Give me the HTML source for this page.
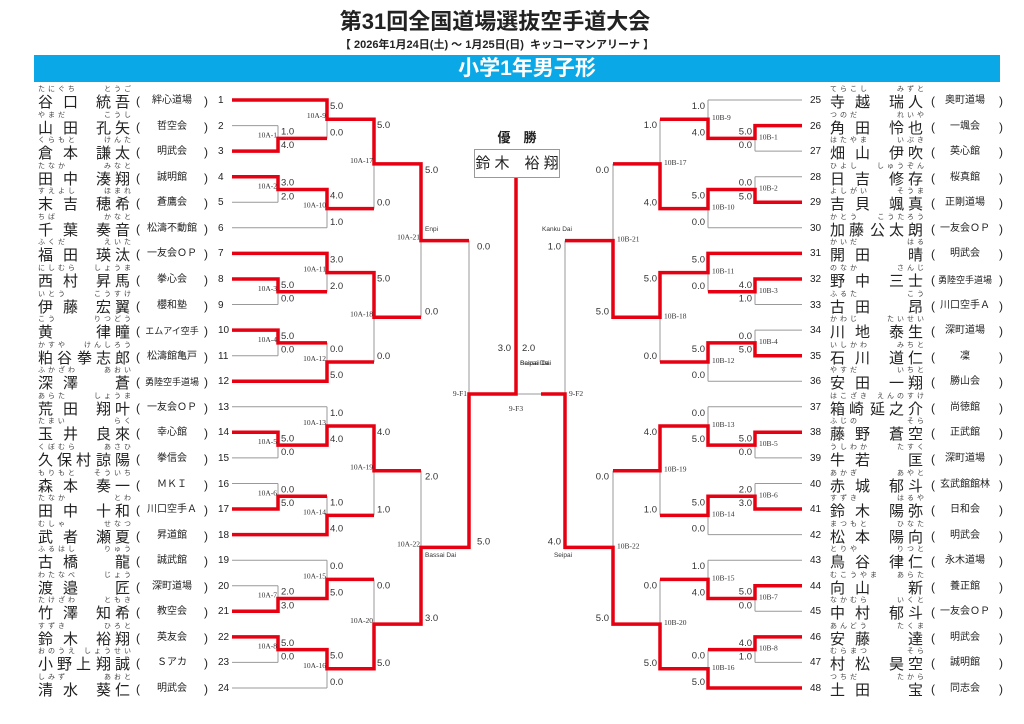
<!DOCTYPE html>
<html><head><meta charset="utf-8"><style>
html,body{margin:0;padding:0;background:#fff}
body{width:1024px;height:724px;position:relative;overflow:hidden;font-family:"Liberation Sans","Noto Sans CJK JP",sans-serif;color:#222}
.title{position:absolute;left:0;width:990px;top:8px;text-align:center;font-size:22px;font-weight:bold;line-height:28px;font-family:"Liberation Sans","Noto Sans CJK JP",sans-serif}
.sub{position:absolute;left:0;width:994px;top:39px;text-align:center;font-size:11px;font-weight:bold;line-height:13px}
.bar{position:absolute;left:34px;top:55px;width:966px;height:27px;background:#0aa8e6;color:#fff;text-align:center;font-size:21px;font-weight:bold;line-height:27px;text-indent:20px}
.L,.R{position:absolute;width:200px;height:26px}
.L{left:38px}.R{left:808px}
.L *,.R *{position:absolute;font-style:normal;text-decoration:none;font-weight:normal;white-space:nowrap}
.ff{top:0;font-size:7px;line-height:8px;letter-spacing:3px;color:#444}
.gf{top:0;width:96px;text-align:right;font-size:7px;line-height:8px;letter-spacing:3px;color:#444}
.f1,.f2,.f3,.gv{top:9px;font-size:15px;line-height:16px;color:#222}
.f2{letter-spacing:10px}.f3{letter-spacing:4px}
.gv{width:96px;text-align:right;letter-spacing:4px}
.L .ff,.L .f1,.L .f2,.L .f3,.L .gf,.L .gv{left:0}
.R .ff,.R .f1,.R .f2,.R .f3{left:22px}
.R .gf,.R .gv{left:23px}
.op,.cp{top:8px;font-size:12px;line-height:14px}
.L .op{left:98px}.R .op{left:123px}
.L .cp{left:166px}.R .cp{left:191px}
.cl{top:9px;width:62px;text-align:center;font-size:10px;line-height:12px}
.L .cl{left:103px}.R .cl{left:126px}
.sm{font-size:9px!important}
.no{top:9px;font-size:10px;line-height:12px}
.L .no{left:180px}.R .no{left:2px}
.champ{position:absolute;left:474px;top:149px;width:84px;height:27px;border:1px solid #999;text-align:center;font-size:15px;line-height:27px;white-space:nowrap}
.yu{position:absolute;left:476px;width:82px;top:130px;text-align:center;font-size:13px;font-weight:bold;line-height:16px}
svg{position:absolute;left:0;top:0}
</style></head><body>
<div class="title">第31回全国道場選抜空手道大会</div>
<div class="sub">【 2026年1月24日(土) ～ 1月25日(日)&nbsp; キッコーマンアリーナ 】</div>
<div class="bar">小学1年男子形</div>
<div class="yu">優　勝</div>
<div class="champ">鈴 木　裕 翔</div>

<svg width="1024" height="724" viewBox="0 0 1024 724">
<g stroke="#999" stroke-width="1" fill="none">
<path d="M232 125.6H278M232 202.3H278M232 227.8H327M232 304.5H278M232 355.7H278M232 406.8H327M232 457.9H278M232 483.5H278M232 560.2H327M232 585.7H278M232 662.4H278M232 688H327"/>
<path d="M278 125.6V151.1M278 176.7V202.3M278 279V304.5M278 330.1V355.7M278 432.3V457.9M278 483.5V509M278 585.7V611.3M278 636.9V662.4"/>
<path d="M327 100V138.35M327 189.5V227.8M327 253.4V291.75M327 342.9V381.2M327 406.8V445.1M327 496.25V534.6M327 560.2V598.5M327 649.65V688"/>
<path d="M374 119.2V208.65M374 272.6V362.05M374 425.95V515.4M374 579.35V668.8M421 163.9V317.3M421 470.7V624.1M469 240.6V547.4"/>
<path d="M802 100H708M802 151.1H755M802 176.7H755M802 227.8H708M802 304.5H755M802 330.1H755M802 381.2H708M802 406.8H708M802 457.9H755M802 483.5H755M802 534.6H708M802 560.2H708M802 611.3H755M802 662.4H755"/>
<path d="M755 125.6V151.1M755 176.7V202.3M755 279V304.5M755 330.1V355.7M755 432.3V457.9M755 483.5V509M755 585.7V611.3M755 636.9V662.4"/>
<path d="M708 100V138.35M708 189.5V227.8M708 253.4V291.75M708 342.9V381.2M708 406.8V445.1M708 496.25V534.6M708 560.2V598.5M708 649.65V688"/>
<path d="M660 119.2V208.65M660 272.6V362.05M660 425.95V515.4M660 579.35V668.8M613 163.9V317.3M613 470.7V624.1M565 240.6V547.4"/>
<path d="M516 394H541"/>
</g>
<g stroke="#e60012" stroke-width="3.5" fill="none" stroke-linejoin="miter">
<path d="M232 100H327V119.2H374V163.9H421V240.6H469"/>
<path d="M232 151.1H278V138.35H327"/>
<path d="M232 176.7H278V189.5H327V208.65H374"/>
<path d="M232 253.4H327V272.6H374V317.3H421"/>
<path d="M232 279H278V291.75H327"/>
<path d="M232 330.1H278V342.9H327"/>
<path d="M232 381.2H327V362.05H374"/>
<path d="M232 432.3H278V445.1H327V425.95H374V470.7H421"/>
<path d="M232 509H278V496.25H327"/>
<path d="M232 534.6H327V515.4H374"/>
<path d="M232 611.3H278V598.5H327V579.35H374"/>
<path d="M232 636.9H278V649.65H327V668.8H374V624.1H421V547.4H469V394H516V178"/>
<path d="M802 125.6H755V138.35H708V119.2H660"/>
<path d="M802 202.3H755V189.5H708V208.65H660V163.9H613"/>
<path d="M802 253.4H708V272.6H660V317.3H613V240.6H565"/>
<path d="M802 279H755V291.75H708"/>
<path d="M802 355.7H755V342.9H708V362.05H660"/>
<path d="M802 432.3H755V445.1H708V425.95H660V470.7H613"/>
<path d="M802 509H755V496.25H708V515.4H660"/>
<path d="M802 585.7H755V598.5H708V579.35H660"/>
<path d="M802 636.9H755V649.65H708"/>
<path d="M802 688H708V668.8H660V624.1H613V547.4H565V394H541"/>
</g>
<g font-family="Liberation Sans, sans-serif" font-size="9.5" fill="#333">
<text x="281" y="134.6">1.0</text><text x="281" y="148.1">4.0</text>
<text x="281" y="185.7">3.0</text><text x="281" y="199.3">2.0</text>
<text x="281" y="288">5.0</text><text x="281" y="301.5">0.0</text>
<text x="281" y="339.1">5.0</text><text x="281" y="352.7">0.0</text>
<text x="281" y="441.3">5.0</text><text x="281" y="454.9">0.0</text>
<text x="281" y="492.5">0.0</text><text x="281" y="506">5.0</text>
<text x="281" y="594.7">2.0</text><text x="281" y="608.3">3.0</text>
<text x="281" y="645.9">5.0</text><text x="281" y="659.4">0.0</text>
<text x="330" y="109">5.0</text><text x="330" y="135.35">0.0</text>
<text x="330" y="198.5">4.0</text><text x="330" y="224.8">1.0</text>
<text x="330" y="262.4">3.0</text><text x="330" y="288.75">2.0</text>
<text x="330" y="351.9">0.0</text><text x="330" y="378.2">5.0</text>
<text x="330" y="415.8">1.0</text><text x="330" y="442.1">4.0</text>
<text x="330" y="505.25">1.0</text><text x="330" y="531.6">4.0</text>
<text x="330" y="569.2">0.0</text><text x="330" y="595.5">5.0</text>
<text x="330" y="658.65">5.0</text><text x="330" y="685">0.0</text>
<text x="377" y="128.2">5.0</text><text x="377" y="205.65">0.0</text>
<text x="377" y="281.6">5.0</text><text x="377" y="359.05">0.0</text>
<text x="377" y="434.95">4.0</text><text x="377" y="512.4">1.0</text>
<text x="377" y="588.35">0.0</text><text x="377" y="665.8">5.0</text>
<text x="425" y="172.9">5.0</text><text x="425" y="314.3">0.0</text>
<text x="425" y="479.7">2.0</text><text x="425" y="621.1">3.0</text>
<text x="477" y="249.6">0.0</text><text x="477" y="544.4">5.0</text>
<g text-anchor="end">
<text x="752" y="134.6">5.0</text><text x="752" y="148.1">0.0</text>
<text x="752" y="185.7">0.0</text><text x="752" y="199.3">5.0</text>
<text x="752" y="288">4.0</text><text x="752" y="301.5">1.0</text>
<text x="752" y="339.1">0.0</text><text x="752" y="352.7">5.0</text>
<text x="752" y="441.3">5.0</text><text x="752" y="454.9">0.0</text>
<text x="752" y="492.5">2.0</text><text x="752" y="506">3.0</text>
<text x="752" y="594.7">5.0</text><text x="752" y="608.3">0.0</text>
<text x="752" y="645.9">4.0</text><text x="752" y="659.4">1.0</text>
<text x="705" y="109">1.0</text><text x="705" y="135.35">4.0</text>
<text x="705" y="198.5">5.0</text><text x="705" y="224.8">0.0</text>
<text x="705" y="262.4">5.0</text><text x="705" y="288.75">0.0</text>
<text x="705" y="351.9">5.0</text><text x="705" y="378.2">0.0</text>
<text x="705" y="415.8">0.0</text><text x="705" y="442.1">5.0</text>
<text x="705" y="505.25">5.0</text><text x="705" y="531.6">0.0</text>
<text x="705" y="569.2">1.0</text><text x="705" y="595.5">4.0</text>
<text x="705" y="658.65">0.0</text><text x="705" y="685">5.0</text>
<text x="657" y="128.2">1.0</text><text x="657" y="205.65">4.0</text>
<text x="657" y="281.6">5.0</text><text x="657" y="359.05">0.0</text>
<text x="657" y="434.95">4.0</text><text x="657" y="512.4">1.0</text>
<text x="657" y="588.35">0.0</text><text x="657" y="665.8">5.0</text>
<text x="609" y="172.9">0.0</text><text x="609" y="314.3">5.0</text>
<text x="609" y="479.7">0.0</text><text x="609" y="621.1">5.0</text>
<text x="561" y="249.6">1.0</text><text x="561" y="544.4">4.0</text>
<text x="511" y="351">3.0</text>
</g>
<text x="522" y="351">2.0</text>
</g>
<g font-family="Liberation Serif, serif" font-size="7.5" fill="#333">
<g text-anchor="end">
<text x="277" y="137.4">10A-1</text><text x="277" y="188.5">10A-2</text><text x="277" y="290.8">10A-3</text><text x="277" y="341.9">10A-4</text><text x="277" y="444.1">10A-5</text><text x="277" y="495.3">10A-6</text><text x="277" y="597.5">10A-7</text><text x="277" y="648.7">10A-8</text>
<text x="326" y="118.2">10A-9</text><text x="326" y="207.7">10A-10</text><text x="326" y="271.6">10A-11</text><text x="326" y="361">10A-12</text><text x="326" y="425">10A-13</text><text x="326" y="514.4">10A-14</text><text x="326" y="578.4">10A-15</text><text x="326" y="667.8">10A-16</text>
<text x="373" y="162.9">10A-17</text><text x="373" y="316.3">10A-18</text><text x="373" y="469.7">10A-19</text><text x="373" y="623.1">10A-20</text>
<text x="420" y="239.6">10A-21</text><text x="420" y="546.4">10A-22</text>
<text x="467" y="396">9-F1</text>
</g>
<text x="759" y="139.4">10B-1</text><text x="759" y="190.5">10B-2</text><text x="759" y="292.8">10B-3</text><text x="759" y="343.9">10B-4</text><text x="759" y="446.1">10B-5</text><text x="759" y="497.3">10B-6</text><text x="759" y="599.5">10B-7</text><text x="759" y="650.7">10B-8</text>
<text x="712" y="120.2">10B-9</text><text x="712" y="209.7">10B-10</text><text x="712" y="273.6">10B-11</text><text x="712" y="363">10B-12</text><text x="712" y="427">10B-13</text><text x="712" y="516.4">10B-14</text><text x="712" y="580.4">10B-15</text><text x="712" y="669.8">10B-16</text>
<text x="664" y="164.9">10B-17</text><text x="664" y="318.3">10B-18</text><text x="664" y="471.7">10B-19</text><text x="664" y="625.1">10B-20</text>
<text x="617" y="241.6">10B-21</text><text x="617" y="548.4">10B-22</text>
<text x="569" y="396">9-F2</text>
<text x="516" y="411" text-anchor="middle">9-F3</text>
</g>
<g font-family="Liberation Sans, sans-serif" font-size="6.5" fill="#333">
<text x="425" y="231">Enpi</text>
<text x="425" y="557">Bassai Dai</text>
<text x="557" y="231" text-anchor="middle">Kanku Dai</text>
<text x="563" y="557" text-anchor="middle">Seipai</text>
<text x="520" y="365">Seipai Dai</text>
<text x="520" y="365">Bassai Dai</text>
</g>
</svg>

<div class="L" style="top:86px"><i class="ff">たにぐち</i><i class="gf">とうご</i><b class="f2">谷口</b><b class="gv">統吾</b><s class="op">(</s><u class="cl">絆心道場</u><s class="cp">)</s><em class="no">1</em></div>
<div class="L" style="top:111.6px"><i class="ff">やまだ</i><i class="gf">こうし</i><b class="f2">山田</b><b class="gv">孔矢</b><s class="op">(</s><u class="cl">哲空会</u><s class="cp">)</s><em class="no">2</em></div>
<div class="L" style="top:137.1px"><i class="ff">くらもと</i><i class="gf">けんた</i><b class="f2">倉本</b><b class="gv">謙太</b><s class="op">(</s><u class="cl">明武会</u><s class="cp">)</s><em class="no">3</em></div>
<div class="L" style="top:162.7px"><i class="ff">たなか</i><i class="gf">みなと</i><b class="f2">田中</b><b class="gv">湊翔</b><s class="op">(</s><u class="cl">誠明館</u><s class="cp">)</s><em class="no">4</em></div>
<div class="L" style="top:188.3px"><i class="ff">すえよし</i><i class="gf">ほまれ</i><b class="f2">末吉</b><b class="gv">穂希</b><s class="op">(</s><u class="cl">蒼鷹会</u><s class="cp">)</s><em class="no">5</em></div>
<div class="L" style="top:213.8px"><i class="ff">ちば</i><i class="gf">かなと</i><b class="f2">千葉</b><b class="gv">奏音</b><s class="op">(</s><u class="cl">松濤不動館</u><s class="cp">)</s><em class="no">6</em></div>
<div class="L" style="top:239.4px"><i class="ff">ふくだ</i><i class="gf">えいた</i><b class="f2">福田</b><b class="gv">瑛汰</b><s class="op">(</s><u class="cl">一友会ＯＰ</u><s class="cp">)</s><em class="no">7</em></div>
<div class="L" style="top:265px"><i class="ff">にしむら</i><i class="gf">しょうま</i><b class="f2">西村</b><b class="gv">昇馬</b><s class="op">(</s><u class="cl">拳心会</u><s class="cp">)</s><em class="no">8</em></div>
<div class="L" style="top:290.5px"><i class="ff">いとう</i><i class="gf">こうすけ</i><b class="f2">伊藤</b><b class="gv">宏翼</b><s class="op">(</s><u class="cl">櫻和塾</u><s class="cp">)</s><em class="no">9</em></div>
<div class="L" style="top:316.1px"><i class="ff">こう</i><i class="gf">りつどう</i><b class="f1">黄</b><b class="gv">律瞳</b><s class="op">(</s><u class="cl sm">エムアイ空手</u><s class="cp">)</s><em class="no">10</em></div>
<div class="L" style="top:341.7px"><i class="ff">かすや</i><i class="gf">けんしろう</i><b class="f3">粕谷</b><b class="gv">拳志郎</b><s class="op">(</s><u class="cl">松濤館亀戸</u><s class="cp">)</s><em class="no">11</em></div>
<div class="L" style="top:367.2px"><i class="ff">ふかざわ</i><i class="gf">あおい</i><b class="f2">深澤</b><b class="gv">蒼</b><s class="op">(</s><u class="cl sm">勇陸空手道場</u><s class="cp">)</s><em class="no">12</em></div>
<div class="L" style="top:392.8px"><i class="ff">あらた</i><i class="gf">しょうま</i><b class="f2">荒田</b><b class="gv">翔叶</b><s class="op">(</s><u class="cl">一友会ＯＰ</u><s class="cp">)</s><em class="no">13</em></div>
<div class="L" style="top:418.3px"><i class="ff">たまい</i><i class="gf">らく</i><b class="f2">玉井</b><b class="gv">良來</b><s class="op">(</s><u class="cl">幸心館</u><s class="cp">)</s><em class="no">14</em></div>
<div class="L" style="top:443.9px"><i class="ff">くぼむら</i><i class="gf">あさひ</i><b class="f3">久保村</b><b class="gv">諒陽</b><s class="op">(</s><u class="cl">拳信会</u><s class="cp">)</s><em class="no">15</em></div>
<div class="L" style="top:469.5px"><i class="ff">もりもと</i><i class="gf">そういち</i><b class="f2">森本</b><b class="gv">奏一</b><s class="op">(</s><u class="cl">ＭＫＩ</u><s class="cp">)</s><em class="no">16</em></div>
<div class="L" style="top:495px"><i class="ff">たなか</i><i class="gf">とわ</i><b class="f2">田中</b><b class="gv">十和</b><s class="op">(</s><u class="cl">川口空手Ａ</u><s class="cp">)</s><em class="no">17</em></div>
<div class="L" style="top:520.6px"><i class="ff">むしゃ</i><i class="gf">せなつ</i><b class="f2">武者</b><b class="gv">瀬夏</b><s class="op">(</s><u class="cl">昇道館</u><s class="cp">)</s><em class="no">18</em></div>
<div class="L" style="top:546.2px"><i class="ff">ふるはし</i><i class="gf">りゅう</i><b class="f2">古橋</b><b class="gv">龍</b><s class="op">(</s><u class="cl">誠武館</u><s class="cp">)</s><em class="no">19</em></div>
<div class="L" style="top:571.7px"><i class="ff">わたなべ</i><i class="gf">じょう</i><b class="f2">渡邉</b><b class="gv">匠</b><s class="op">(</s><u class="cl">深町道場</u><s class="cp">)</s><em class="no">20</em></div>
<div class="L" style="top:597.3px"><i class="ff">たけざわ</i><i class="gf">ともき</i><b class="f2">竹澤</b><b class="gv">知希</b><s class="op">(</s><u class="cl">教空会</u><s class="cp">)</s><em class="no">21</em></div>
<div class="L" style="top:622.9px"><i class="ff">すずき</i><i class="gf">ひろと</i><b class="f2">鈴木</b><b class="gv">裕翔</b><s class="op">(</s><u class="cl">英友会</u><s class="cp">)</s><em class="no">22</em></div>
<div class="L" style="top:648.4px"><i class="ff">おのうえ</i><i class="gf">しょうせい</i><b class="f3">小野上</b><b class="gv">翔誠</b><s class="op">(</s><u class="cl">Ｓアカ</u><s class="cp">)</s><em class="no">23</em></div>
<div class="L" style="top:674px"><i class="ff">しみず</i><i class="gf">あおと</i><b class="f2">清水</b><b class="gv">葵仁</b><s class="op">(</s><u class="cl">明武会</u><s class="cp">)</s><em class="no">24</em></div>

<div class="R" style="top:86px"><em class="no">25</em><i class="ff">てらこし</i><i class="gf">みずと</i><b class="f2">寺越</b><b class="gv">瑞人</b><s class="op">(</s><u class="cl">奥町道場</u><s class="cp">)</s></div>
<div class="R" style="top:111.6px"><em class="no">26</em><i class="ff">つのだ</i><i class="gf">れいや</i><b class="f2">角田</b><b class="gv">怜也</b><s class="op">(</s><u class="cl">一颯会</u><s class="cp">)</s></div>
<div class="R" style="top:137.1px"><em class="no">27</em><i class="ff">はたやま</i><i class="gf">いぶき</i><b class="f2">畑山</b><b class="gv">伊吹</b><s class="op">(</s><u class="cl">英心館</u><s class="cp">)</s></div>
<div class="R" style="top:162.7px"><em class="no">28</em><i class="ff">ひよし</i><i class="gf">しゅうぞん</i><b class="f2">日吉</b><b class="gv">修存</b><s class="op">(</s><u class="cl">桜真館</u><s class="cp">)</s></div>
<div class="R" style="top:188.3px"><em class="no">29</em><i class="ff">よしがい</i><i class="gf">そうま</i><b class="f2">吉貝</b><b class="gv">颯真</b><s class="op">(</s><u class="cl">正剛道場</u><s class="cp">)</s></div>
<div class="R" style="top:213.8px"><em class="no">30</em><i class="ff">かとう</i><i class="gf">こうたろう</i><b class="f3">加藤</b><b class="gv">公太朗</b><s class="op">(</s><u class="cl">一友会ＯＰ</u><s class="cp">)</s></div>
<div class="R" style="top:239.4px"><em class="no">31</em><i class="ff">かいだ</i><i class="gf">はる</i><b class="f2">開田</b><b class="gv">晴</b><s class="op">(</s><u class="cl">明武会</u><s class="cp">)</s></div>
<div class="R" style="top:265px"><em class="no">32</em><i class="ff">のなか</i><i class="gf">さんじ</i><b class="f2">野中</b><b class="gv">三士</b><s class="op">(</s><u class="cl sm">勇陸空手道場</u><s class="cp">)</s></div>
<div class="R" style="top:290.5px"><em class="no">33</em><i class="ff">ふるた</i><i class="gf">こう</i><b class="f2">古田</b><b class="gv">昂</b><s class="op">(</s><u class="cl">川口空手Ａ</u><s class="cp">)</s></div>
<div class="R" style="top:316.1px"><em class="no">34</em><i class="ff">かわじ</i><i class="gf">たいせい</i><b class="f2">川地</b><b class="gv">泰生</b><s class="op">(</s><u class="cl">深町道場</u><s class="cp">)</s></div>
<div class="R" style="top:341.7px"><em class="no">35</em><i class="ff">いしかわ</i><i class="gf">みちと</i><b class="f2">石川</b><b class="gv">道仁</b><s class="op">(</s><u class="cl">凜</u><s class="cp">)</s></div>
<div class="R" style="top:367.2px"><em class="no">36</em><i class="ff">やすだ</i><i class="gf">いちと</i><b class="f2">安田</b><b class="gv">一翔</b><s class="op">(</s><u class="cl">勝山会</u><s class="cp">)</s></div>
<div class="R" style="top:392.8px"><em class="no">37</em><i class="ff">はこざき</i><i class="gf">えんのすけ</i><b class="f3">箱崎</b><b class="gv">延之介</b><s class="op">(</s><u class="cl">尚徳館</u><s class="cp">)</s></div>
<div class="R" style="top:418.3px"><em class="no">38</em><i class="ff">ふじの</i><i class="gf">そら</i><b class="f2">藤野</b><b class="gv">蒼空</b><s class="op">(</s><u class="cl">正武館</u><s class="cp">)</s></div>
<div class="R" style="top:443.9px"><em class="no">39</em><i class="ff">うしわか</i><i class="gf">たすく</i><b class="f2">牛若</b><b class="gv">匡</b><s class="op">(</s><u class="cl">深町道場</u><s class="cp">)</s></div>
<div class="R" style="top:469.5px"><em class="no">40</em><i class="ff">あかぎ</i><i class="gf">あやと</i><b class="f2">赤城</b><b class="gv">郁斗</b><s class="op">(</s><u class="cl">玄武館館林</u><s class="cp">)</s></div>
<div class="R" style="top:495px"><em class="no">41</em><i class="ff">すずき</i><i class="gf">はるや</i><b class="f2">鈴木</b><b class="gv">陽弥</b><s class="op">(</s><u class="cl">日和会</u><s class="cp">)</s></div>
<div class="R" style="top:520.6px"><em class="no">42</em><i class="ff">まつもと</i><i class="gf">ひなた</i><b class="f2">松本</b><b class="gv">陽向</b><s class="op">(</s><u class="cl">明武会</u><s class="cp">)</s></div>
<div class="R" style="top:546.2px"><em class="no">43</em><i class="ff">とりや</i><i class="gf">りつと</i><b class="f2">鳥谷</b><b class="gv">律仁</b><s class="op">(</s><u class="cl">永木道場</u><s class="cp">)</s></div>
<div class="R" style="top:571.7px"><em class="no">44</em><i class="ff">むこうやま</i><i class="gf">あらた</i><b class="f2">向山</b><b class="gv">新</b><s class="op">(</s><u class="cl">養正館</u><s class="cp">)</s></div>
<div class="R" style="top:597.3px"><em class="no">45</em><i class="ff">なかむら</i><i class="gf">いくと</i><b class="f2">中村</b><b class="gv">郁斗</b><s class="op">(</s><u class="cl">一友会ＯＰ</u><s class="cp">)</s></div>
<div class="R" style="top:622.9px"><em class="no">46</em><i class="ff">あんどう</i><i class="gf">たくま</i><b class="f2">安藤</b><b class="gv">達</b><s class="op">(</s><u class="cl">明武会</u><s class="cp">)</s></div>
<div class="R" style="top:648.4px"><em class="no">47</em><i class="ff">むらまつ</i><i class="gf">そら</i><b class="f2">村松</b><b class="gv">昊空</b><s class="op">(</s><u class="cl">誠明館</u><s class="cp">)</s></div>
<div class="R" style="top:674px"><em class="no">48</em><i class="ff">つちだ</i><i class="gf">たから</i><b class="f2">土田</b><b class="gv">宝</b><s class="op">(</s><u class="cl">同志会</u><s class="cp">)</s></div>
</body></html>
